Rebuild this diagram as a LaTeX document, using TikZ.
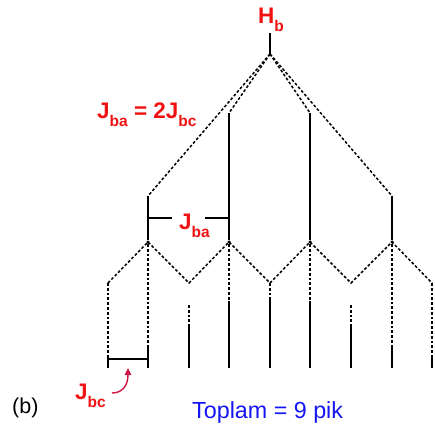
\documentclass[tikz,border=0pt]{standalone}
\usepackage{fontspec}
\setmainfont{Liberation Sans}
\usetikzlibrary{arrows.meta}
\definecolor{lblred}{RGB}{240,18,18}
\definecolor{lblblue}{RGB}{22,22,240}
\definecolor{arrred}{RGB}{205,24,70}
\newcommand\sbs[1]{\raisebox{-8pt}{\fontsize{15.5}{15.5}\selectfont #1}}
\begin{document}
\begin{tikzpicture}[x=1pt,y=-1pt,
  solidl/.style={line width=2.8pt},
  dline/.style={line width=1.5pt, dash pattern=on 2.8pt off 2pt},
  brk/.style={line width=1.5pt},
  lab/.style={text=lblred, font=\bfseries\fontsize{22.5}{24}\selectfont, inner sep=0pt, anchor=base west},
  nd/.style={circle, fill=black, inner sep=0pt, minimum size=3.5pt}]
\useasboundingbox (0,0) rectangle (435,428);
% top
\coordinate (top) at (270,33);
\coordinate (apex) at (270,54);
% first level ends
\coordinate (L1a) at (148,196);
\coordinate (L1b) at (229,113);
\coordinate (L1c) at (310,113);
\coordinate (L1d) at (392,196);
% first level nodes
\node[nd] (N1) at (148,242) {};
\node[nd] (N2) at (229,242) {};
\node[nd] (N3) at (310,242) {};
\node[nd] (N4) at (392,242) {};
% V points
\coordinate (V0) at (108,283);
\coordinate (V1) at (189,283);
\coordinate (V2) at (270,283);
\coordinate (V3) at (351,283);
\coordinate (V4) at (432,283);
\coordinate (D2) at (189,305);
\coordinate (D6) at (351,305);
% tops of final lines
\coordinate (S0) at (108,356);
\coordinate (S1) at (148,345);
\coordinate (S2) at (189,324);
\coordinate (S3) at (229,301);
\coordinate (S4) at (270,300);
\coordinate (S5) at (310,301);
\coordinate (S6) at (351,324);
\coordinate (S7) at (392,345);
\coordinate (S8) at (432,356);
% bottoms
\foreach \i/\x in {0/108,1/148,2/189,3/229,4/270,5/310,6/351,7/392,8/432}
  \coordinate (E\i) at (\x,368);

% H_b stem
\draw[solidl] (top) -- (apex);
% first splitting
\draw[dline] (apex) -- (L1a);
\draw[dline] (apex) -- (L1b);
\draw[dline] (apex) -- (L1c);
\draw[dline] (apex) -- (L1d);
\draw[solidl] (L1a) -- (N1);
\draw[solidl] (L1b) -- (N2);
\draw[solidl] (L1c) -- (N3);
\draw[solidl] (L1d) -- (N4);
% second splitting
\draw[dline] (V0) -- (N1.center) -- (V1) -- (N2.center) -- (V2) -- (N3.center) -- (V3) -- (N4.center) -- (V4);
\draw[dline] (V0) -- (S0);
\draw[dline] (N1) -- (S1);
\draw[dline] (D2) -- (S2);
\draw[dline] (N2) -- (S3);
\draw[dline] (V2) -- (S4);
\draw[dline] (N3) -- (S5);
\draw[dline] (D6) -- (S6);
\draw[dline] (N4) -- (S7);
\draw[dline] (V4) -- (S8);
% final lines
\foreach \i in {0,...,8} \draw[solidl] (S\i) -- (E\i);

% labels
\node[lab] (hb) at (258,24) {H\sbs{b}};
\node[lab] (jeq) at (97,118) {J\sbs{ba} = 2J\sbs{bc}};
\node[lab] (jba) at (179,229) {J\sbs{ba}};
\node[lab] (jbc) at (75,399) {J\sbs{bc}};
\node[anchor=base west, inner sep=0pt, font=\fontsize{21.5}{23}\selectfont] (blab) at (12,413) {(b)};
\node[anchor=base west, inner sep=0pt, text=lblblue, font=\fontsize{23.3}{25}\selectfont] (tot) at (192,418) {Toplam = 9 pik};

% J_ba bracket
\coordinate (ba1) at (148,218);
\coordinate (ba2) at (172,218);
\coordinate (ba3) at (205,218);
\coordinate (ba4) at (229,218);
\draw[brk] (ba1) -- (ba2);
\draw[brk] (ba3) -- (ba4);
% J_bc bracket
\coordinate (bc1) at (108,359);
\coordinate (bc2) at (148,359);
\draw[brk] (bc1) -- (bc2);
% J_bc arrow
\coordinate (atail) at (112,393);
\coordinate (ahead) at (128,368);
\draw[arrred, line width=1.4pt, -{Triangle[length=7pt,width=6.5pt]}] (atail) .. controls (122,393) and (128,386) .. (ahead);
\end{tikzpicture}
\end{document}
